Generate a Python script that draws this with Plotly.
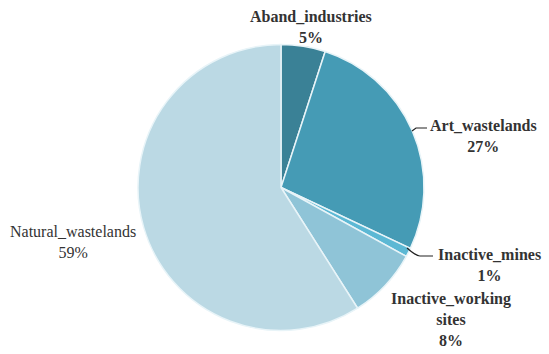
import plotly.graph_objects as go

W, H = 549, 354

categories = ["Aband_industries", "Art_wastelands", "Inactive_mines",
              "Inactive_working sites", "Natural_wastelands"]
values = [5, 27, 1, 8, 59]
colors = ["#3a8196", "#459bb5", "#5cb8d4", "#8fc4d7", "#bbd9e4"]

# label display text (line-broken) and pixel anchors
label_lines = [
    ["<b>Aband_industries</b>", "<b>5%</b>"],
    ["<b>Art_wastelands</b>", "<b>27%</b>"],
    ["<b>Inactive_mines</b>", "<b>1%</b>"],
    ["<b>Inactive_working</b>", "<b>sites</b>", "<b>8%</b>"],
    ["Natural_wastelands", "59%"],
]
label_pos = [(311, 27), (483, 136), (489, 265), (451, 319), (73, 242)]

def px(x):
    return x / W

def py(y):
    return 1 - y / H

FONT = "Liberation Serif"

fig = go.Figure()
fig.add_trace(go.Pie(
    labels=categories,
    values=values,
    sort=False,
    direction="clockwise",
    rotation=0,
    marker=dict(colors=colors, line=dict(color="#e8f4f8", width=1.5)),
    textinfo="none",
    hoverinfo="label+percent",
    domain=dict(x=[px(138), px(424)], y=[py(331), py(44)]),
    showlegend=False,
))

annotations = []
for lines, (x, y) in zip(label_lines, label_pos):
    annotations.append(dict(
        x=px(x), y=py(y), xref="paper", yref="paper",
        text="<br>".join(lines), showarrow=False,
        xanchor="center", yanchor="middle", align="center",
        font=dict(family=FONT, size=16, color="#333333"),
    ))

shapes = [
    dict(type="path", xref="paper", yref="paper",
         path=f"M {px(412)} {py(131)} L {px(416)} {py(128)} L {px(427)} {py(128)}",
         line=dict(color="#222222", width=1.2)),
    dict(type="path", xref="paper", yref="paper",
         path=f"M {px(407)} {py(248)} Q {px(416)} {py(256)} {px(420)} {py(256)} L {px(433)} {py(256)}",
         line=dict(color="#222222", width=1.2)),
]

fig.update_layout(
    width=W, height=H,
    margin=dict(l=0, r=0, t=0, b=0),
    paper_bgcolor="white",
    plot_bgcolor="white",
    font=dict(family=FONT),
    annotations=annotations,
    shapes=shapes,
)

fig.write_html("out.html", config={"displayModeBar": False},
               post_script="document.body.style.margin='0px';")
